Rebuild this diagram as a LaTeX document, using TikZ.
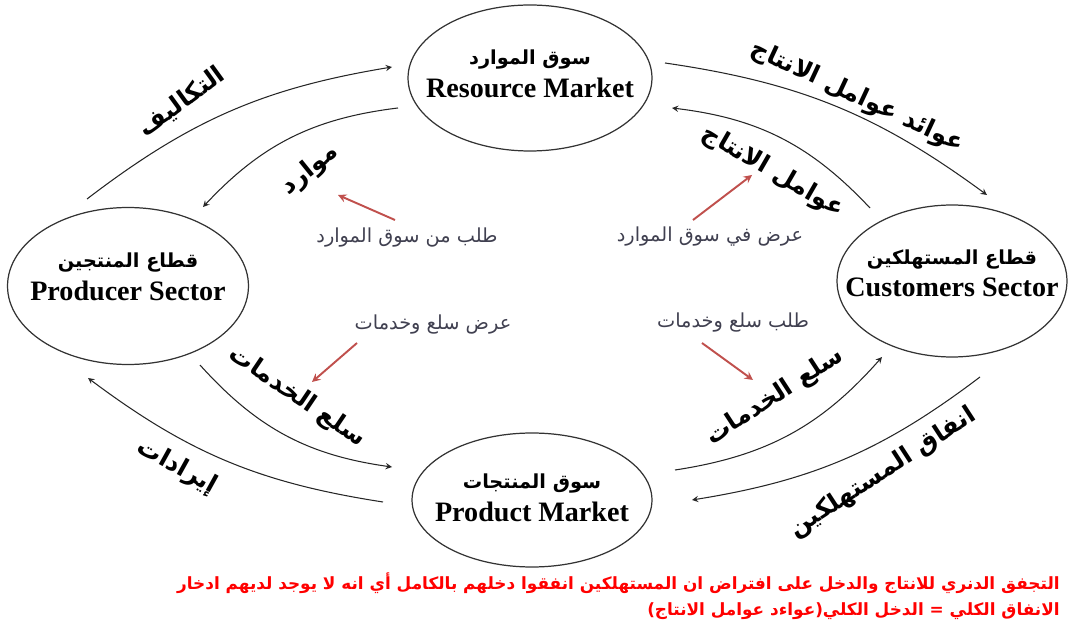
\documentclass[tikz,border=0pt]{standalone}
\usepackage{fontspec}
\setmainfont{Liberation Serif}
\newfontfamily\arabicfont[Script=Arabic]{DejaVu Sans}
\TeXXeTstate=1
\usetikzlibrary{arrows,shapes.geometric,positioning}
\newcommand{\arab}[1]{{\arabicfont\beginR #1\endR}}
\definecolor{hintred}{RGB}{192,80,77}
\definecolor{notegray}{RGB}{64,64,80}
\definecolor{footred}{RGB}{255,0,0}

\begin{document}
\begin{tikzpicture}[
            x = 0.02cm, y = 0.02cm, % one unit = one pixel of the sketch
            > = stealth, % arrow head style
            sector/.style = {shape=ellipse, draw=black!80, line width=0.7pt, inner sep=0pt},
            title/.style = {align=center, inner sep=0pt},
            flow/.style = {->, draw=black!85, line width=0.6pt},
            flowlabel/.style = {font=\arabicfont\fontsize{14}{16}\selectfont\bfseries},
            note/.style = {text=notegray, font=\arabicfont\fontsize{11}{13}\selectfont},
            hint/.style = {-stealth, hintred, line width=1.1pt},
            foot/.style = {text=footred, inner sep=0pt, font=\arabicfont\fontsize{9.6}{11}\selectfont\bfseries}
        ]
        \useasboundingbox (0,0) rectangle (1069,626);

        % the four sectors and markets
        \node[sector, minimum width=4.88cm, minimum height=2.92cm] (res)  at (530,548) {};
        \node[sector, minimum width=4.82cm, minimum height=3.14cm] (prod) at (128,340) {};
        \node[sector, minimum width=4.6cm,  minimum height=3.04cm] (cust) at (952,345) {};
        \node[sector, minimum width=4.8cm,  minimum height=2.68cm] (mkt)  at (532,126) {};

        \node[title] (resT)  at (530,552)
            {{\arabicfont\fontsize{11}{13}\selectfont\bfseries\beginR سوق الموارد\endR}\\[4pt]
             {\fontsize{16}{18}\selectfont\bfseries Resource Market}};
        \node[title] (prodT) at (128,349)
            {{\arabicfont\fontsize{11}{13}\selectfont\bfseries\beginR قطاع المنتجين\endR}\\[4pt]
             {\fontsize{16}{18}\selectfont\bfseries Producer Sector}};
        \node[title] (custT) at (952,353)
            {{\arabicfont\fontsize{11}{13}\selectfont\bfseries\beginR قطاع المستهلكين\endR}\\[4pt]
             {\fontsize{16}{18}\selectfont\bfseries Customers Sector}};
        \node[title] (mktT)  at (532,128)
            {{\arabicfont\fontsize{11}{13}\selectfont\bfseries\beginR سوق المنتجات\endR}\\[4pt]
             {\fontsize{16}{18}\selectfont\bfseries Product Market}};

        % ends of the flows
        \coordinate (costS) at (87,427);   \coordinate (costE) at (392,559);
        \coordinate (resS)  at (398,518);  \coordinate (resE)  at (203,419);
        \coordinate (retS)  at (665,563);  \coordinate (retE)  at (987,431);
        \coordinate (facS)  at (870,418);  \coordinate (facE)  at (672,518);
        \coordinate (gdlS)  at (200,261);  \coordinate (gdlE)  at (392,159);
        \coordinate (revS)  at (383,124);  \coordinate (revE)  at (88,248);
        \coordinate (gdrS)  at (675,156);  \coordinate (gdrE)  at (882,269);
        \coordinate (spdS)  at (980,249);  \coordinate (spdE)  at (692,126);

        \draw[flow] (costS) to[bend left=14]  (costE);
        \draw[flow] (resS)  to[bend right=20] (resE);
        \draw[flow] (retS)  to[bend left=14]  (retE);
        \draw[flow] (facS)  to[bend right=20] (facE);
        \draw[flow] (gdlS)  to[bend right=20] (gdlE);
        \draw[flow] (revS)  to[bend left=14]  (revE);
        \draw[flow] (gdrS)  to[bend right=20] (gdrE);
        \draw[flow] (spdS)  to[bend left=14]  (spdE);

        % labels of the flows
        \node[flowlabel, rotate=36]  (costL) at (182,524) {\arab{التكاليف}};
        \node[flowlabel, rotate=39]  (resL)  at (310,456) {\arab{موارد}};
        \node[flowlabel, rotate=-25] (retL)  at (857,529) {\arab{عوائد عوامل الانتاج}};
        \node[flowlabel, rotate=-30] (facL)  at (773,454) {\arab{عوامل الانتاج}};
        \node[flowlabel, rotate=-34] (gdlL)  at (297,229) {\arab{سلع الخدمات}};
        \node[flowlabel, rotate=-29] (revL)  at (177,159) {\arab{إيرادات}};
        \node[flowlabel, rotate=33]  (gdrL)  at (775,229) {\arab{سلع الخدمات}};
        \node[flowlabel, rotate=33]  (spdL)  at (883,153) {\arab{انفاق المستهلكين}};

        % notes with red pointers
        \node[note] (dmdRes) at (407,388) {\arab{طلب من سوق الموارد}};
        \node[note] (supGds) at (433,301) {\arab{عرض سلع وخدمات}};
        \node[note] (supRes) at (710,389) {\arab{عرض في سوق الموارد}};
        \node[note] (dmdGds) at (733,303) {\arab{طلب سلع وخدمات}};
        \coordinate (p1s) at (395,406); \coordinate (p1e) at (338,431);
        \coordinate (p2s) at (357,283); \coordinate (p2e) at (312,244);
        \coordinate (p3s) at (693,406); \coordinate (p3e) at (752,451);
        \coordinate (p4s) at (702,283); \coordinate (p4e) at (753,246);
        \draw[hint] (p1s) -- (p1e);
        \draw[hint] (p2s) -- (p2e);
        \draw[hint] (p3s) -- (p3e);
        \draw[hint] (p4s) -- (p4e);

        % footnote
        \node[foot, anchor=east] (foot1) at (1060,43)
            {\arab{التجفق الدنري للانتاج والدخل على افتراض ان المستهلكين انفقوا دخلهم بالكامل أي انه لا يوجد لديهم ادخار}};
        \node[foot, below=5pt of foot1.south east, anchor=north east] (foot2)
            {\arab{الانفاق الكلي = الدخل الكلي(عواءد عوامل الانتاج)}};
    \end{tikzpicture}
\end{document}
